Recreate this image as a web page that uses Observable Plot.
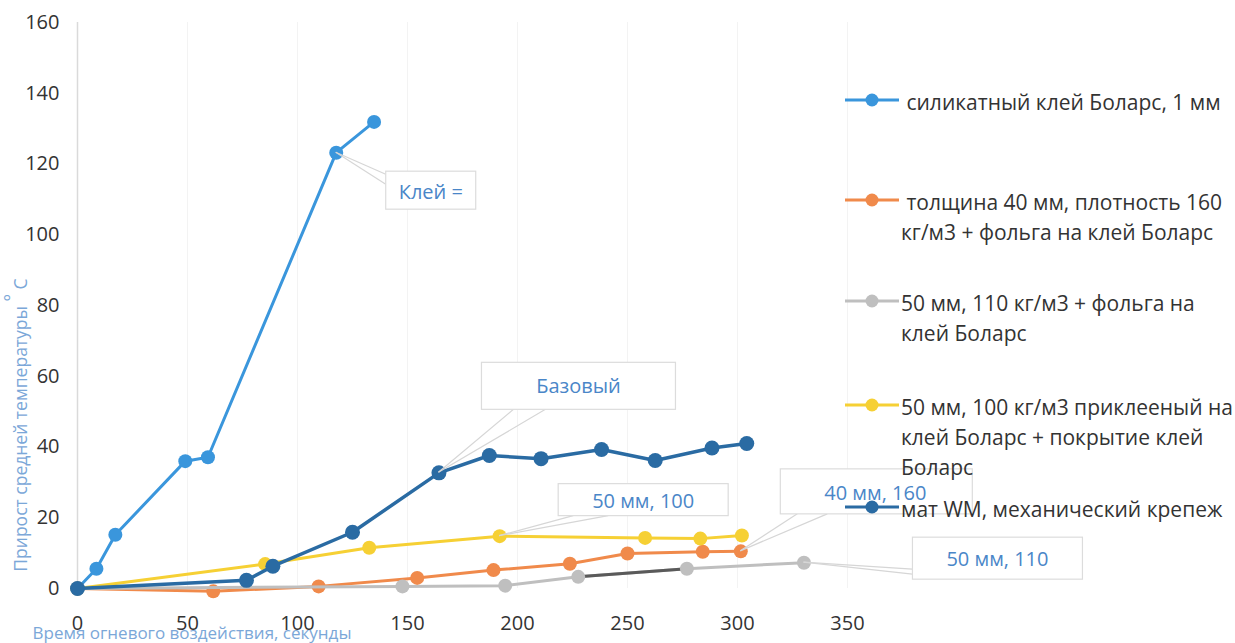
<!DOCTYPE html>
<html>
<head>
<meta charset="utf-8">
<script src="https://cdn.jsdelivr.net/npm/d3@7"></script>
<script src="https://cdn.jsdelivr.net/npm/@observablehq/plot@0.6"></script>
<style>
  body { margin: 0; background: #fff; }
  #chart { width: 1235px; height: 643px; overflow: hidden; }
  #chart svg { display: block; }
</style>
</head>
<body>
<div id="chart"></div>
<script>
// Axis ticks
const xTicks = [0, 50, 100, 150, 200, 250, 300, 350];
const yTicks = [0, 20, 40, 60, 80, 100, 120, 140, 160];

// Series (legend order)
const seriesNames = [
  "силикатный клей Боларс, 1 мм",
  "толщина 40 мм, плотность 160 кг/м3 + фольга на клей Боларс",
  "50 мм, 110 кг/м3 + фольга на клей Боларс",
  "50 мм, 100 кг/м3 приклееный на клей Боларс + покрытие клей Боларс",
  "мат WM, механический крепеж"
];
// Legend text as it wraps in the legend column
const legendLines = [
  [" силикатный клей Боларс, 1 мм"],
  [" толщина 40 мм, плотность 160", "кг/м3 + фольга на клей Боларс"],
  ["50 мм, 110 кг/м3 + фольга на", "клей Боларс"],
  ["50 мм, 100 кг/м3 приклееный на", "клей Боларс + покрытие клей", "Боларс"],
  ["мат WM, механический крепеж"]
];
const seriesColors = ["#3a96dc", "#f08a4b", "#bfbfbf", "#f6d034", "#2a6ba3"];

// Time of fire exposure, s  /  average temperature rise, °C
const silicateTime = [0, 8.6, 17.2, 49, 59.3, 117.6, 134.8];
const silicateRise = [0, 5.6, 15.2, 36, 37.1, 123.2, 131.9];

const foil40Time = [0, 61.7, 109.6, 154.4, 189.1, 223.8, 250, 284.2, 301.5];
const foil40Rise = [0, -0.8, 0.6, 3, 5.2, 7, 9.9, 10.4, 10.5];

const foil50Time = [0, 147.7, 194.4, 227.6, 277, 330.2];
const foil50Rise = [0, 0.6, 0.8, 3.3, 5.6, 7.3];

const glued50Time = [0, 85.3, 132.6, 191.9, 258, 283.1, 302];
const glued50Rise = [0, 6.9, 11.5, 14.8, 14.3, 14.1, 15];

const matTime = [0, 76.8, 88.8, 125, 164.3, 187.2, 210.7, 238.2, 262.6, 288.4, 304.2];
const matRise = [0, 2.3, 6.3, 15.9, 32.7, 37.6, 36.7, 39.3, 36.2, 39.7, 41];

// Stretch of the 50 мм, 110 curve that is drawn in a darker stroke
const foil50DarkSpan = [227.6, 277];

// Data callouts: text, series index, time of the labelled point
const calloutLabels = ["Клей = ", "Базовый", "50 мм, 100", "40 мм, 160", "50 мм, 110"];
const calloutSeries = [0, 4, 3, 1, 2];
const calloutTime = [117.6, 164.3, 191.9, 301.5, 330.2];

const xTitle = "Время огневого воздействия, секунды";
const yTitle = "Прирост средней температуры";
const yTitleUnit = "C";

// ---- tidy table ----
const seriesTimes = [silicateTime, foil40Time, foil50Time, glued50Time, matTime];
const seriesRises = [silicateRise, foil40Rise, foil50Rise, glued50Rise, matRise];
const rows = seriesNames.flatMap((name, i) =>
  seriesTimes[i].map((t, j) => ({series: name, idx: i, time: t, rise: seriesRises[i][j]}))
);

const callouts = calloutLabels.map((label, k) => {
  const s = calloutSeries[k];
  const j = seriesTimes[s].indexOf(calloutTime[k]);
  return {label, time: calloutTime[k], rise: seriesRises[s][j]};
});

// Callout box placement relative to the labelled point (pixels)
const calloutLayout = [
  {bx: 50, by: 19, w: 90, h: 38, tx: 63, ty: 40, anchor: "start", lead: [[50, 22], [50, 32]]},
  {bx: 43, by: -110, w: 194, h: 47, tx: 140, ty: -86, anchor: "middle", lead: [[75, -63], [107, -63]]},
  {bx: 59, by: -52, w: 170, h: 32, tx: 144, ty: -35, anchor: "middle", lead: [[74, -20], [109, -20]]},
  {bx: 40, by: -82, w: 192, h: 45, tx: 135, ty: -58, anchor: "middle", lead: [[57, -37], [87, -37]]},
  {bx: 109, by: -25, w: 170, h: 42, tx: 194, ty: -3, anchor: "middle", lead: [[109, 7], [109, 12]]}
];

function calloutMark(index, scales) {
  const g = d3.create("svg:g");
  callouts.forEach((c, k) => {
    const px = scales.x(c.time), py = scales.y(c.rise);
    const L = calloutLayout[k];
    L.lead.forEach(([dx, dy]) => {
      g.append("line")
        .attr("x1", px).attr("y1", py)
        .attr("x2", px + dx).attr("y2", py + dy)
        .attr("stroke", "#d6d6d6").attr("stroke-width", 1.2);
    });
    g.append("rect")
      .attr("x", px + L.bx).attr("y", py + L.by)
      .attr("width", L.w).attr("height", L.h)
      .attr("fill", "#fff").attr("stroke", "#dcdcdc").attr("stroke-width", 1.2);
    g.append("text")
      .attr("x", px + L.tx).attr("y", py + L.ty)
      .attr("dy", "0.35em")
      .attr("text-anchor", L.anchor)
      .attr("fill", "#4a86c8")
      .attr("font-family", "Open Sans, sans-serif")
      .attr("font-size", 20)
      .text(c.label);
  });
  return g.node();
}

// Legend column on the right
const legendRowsY = [100, 200, 301, 405, 507];
function legendMark() {
  const g = d3.create("svg:g")
    .attr("font-family", "Open Sans, sans-serif")
    .attr("text-anchor", "start");
  seriesNames.forEach((name, i) => {
    const y = legendRowsY[i];
    g.append("line").attr("x1", 845).attr("x2", 899).attr("y1", y).attr("y2", y)
      .attr("stroke", seriesColors[i]).attr("stroke-width", 3);
    g.append("circle").attr("cx", 872).attr("cy", y).attr("r", 6.5).attr("fill", seriesColors[i]);
    const t = g.append("text").attr("y", y + 3)
      .attr("font-size", 21).attr("fill", "#333")
      .attr("text-anchor", "start")
      .style("white-space", "pre");
    legendLines[i].forEach((line, j) => {
      t.append("tspan").attr("x", 901).attr("dy", j === 0 ? "0.35em" : 30).text(line);
    });
  });
  return g.node();
}

// Axis titles
function titlesMark() {
  const g = d3.create("svg:g").attr("font-family", "Open Sans, sans-serif").attr("fill", "#7ba7d8");
  g.append("text").attr("x", 192).attr("y", 639).attr("text-anchor", "middle")
    .attr("font-size", 17).text(xTitle);
  const t = g.append("text").attr("transform", "translate(27,425) rotate(-90)")
    .attr("text-anchor", "middle").attr("font-size", 17.5);
  t.append("tspan").text(yTitle + " ");
  t.append("tspan").attr("dy", -9).text("°");
  t.append("tspan").attr("dy", 9).text(" " + yTitleUnit);
  return g.node();
}

const lineMarks = seriesNames.flatMap((name, i) => {
  const data = rows.filter(d => d.idx === i);
  return [
    Plot.line(data, {x: "time", y: "rise", stroke: seriesColors[i], strokeWidth: i === 4 ? 3.5 : 3, strokeLinejoin: "round"}),
    ...(i === 2 ? [Plot.line(data.filter(d => d.time >= foil50DarkSpan[0] && d.time <= foil50DarkSpan[1]),
        {x: "time", y: "rise", stroke: "#5a5a5a", strokeWidth: 3})] : []),
    Plot.dot(data, {x: "time", y: "rise", fill: seriesColors[i], r: i === 4 ? 7.5 : 7})
  ];
});

const chart = Plot.plot({
  width: 1235,
  height: 643,
  marginLeft: 77,
  marginRight: 388,
  marginTop: 22,
  marginBottom: 55,
  style: {fontFamily: "Open Sans, sans-serif", fontSize: "20px", color: "#333", background: "#fff"},
  x: {domain: [0, 350], ticks: xTicks, tickSize: 0, tickPadding: 27, label: null},
  y: {domain: [0, 160], ticks: yTicks, tickSize: 0, tickPadding: 18, label: null},
  marks: [
    Plot.ruleX(xTicks.slice(1), {stroke: "#f3f3f3"}),
    Plot.ruleX([0], {stroke: "#dadada", strokeWidth: 1.5}),
    ...lineMarks,
    calloutMark,
    legendMark,
    titlesMark
  ]
});

document.getElementById("chart").appendChild(chart);
</script>
</body>
</html>
